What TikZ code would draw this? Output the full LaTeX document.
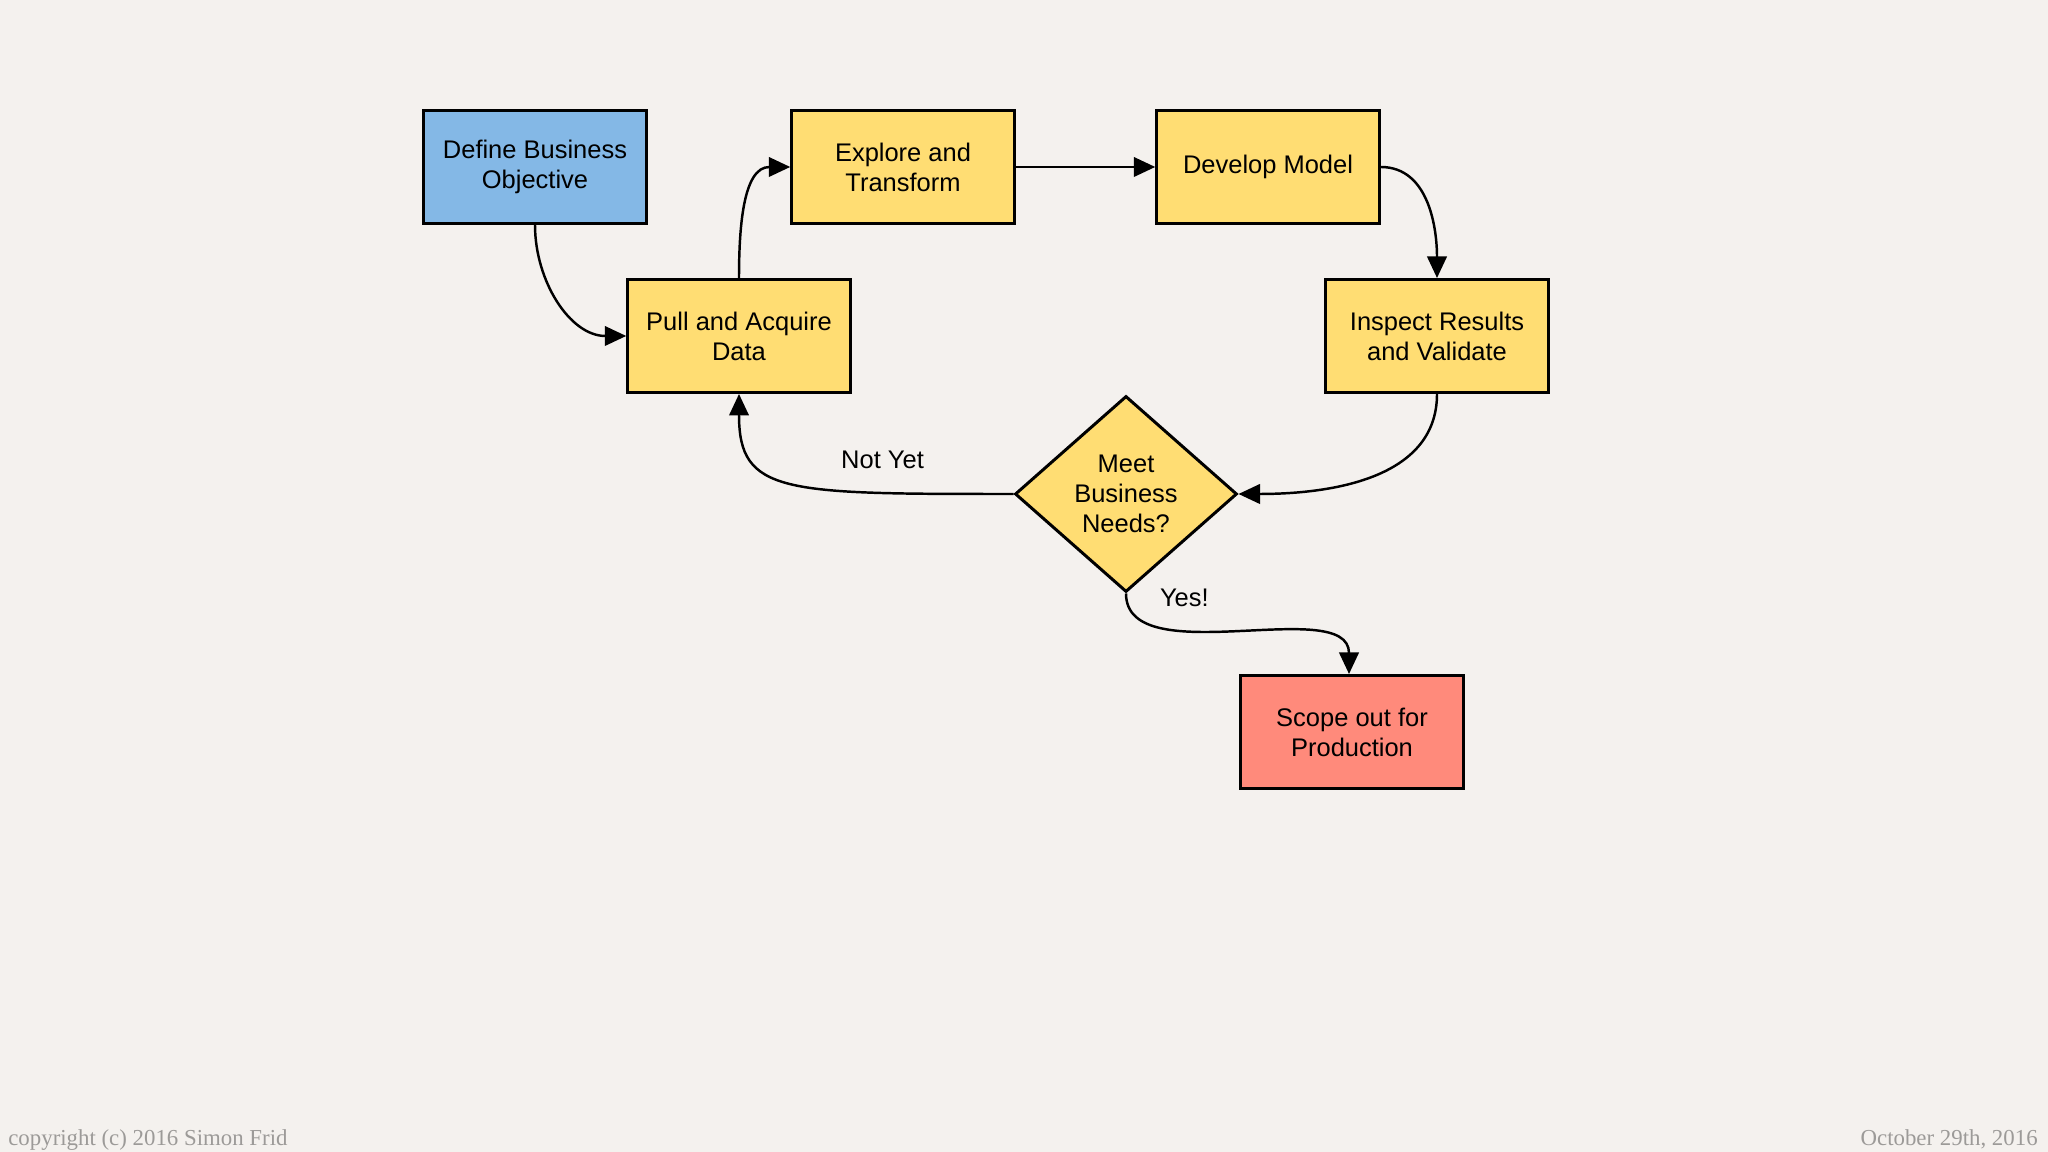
\documentclass[tikz,border=0pt]{standalone}
\usepackage{fontspec}
\setmainfont{Liberation Sans}
\newfontfamily\notefont{Liberation Serif}
\usepackage{tikz}
\usetikzlibrary{arrows.meta, positioning, shapes.geometric}
\definecolor{paper}{HTML}{F4F1EE}
\definecolor{bluebox}{HTML}{84B8E6}
\definecolor{yellowbox}{HTML}{FFDD73}
\definecolor{redbox}{HTML}{FF8A7B}
\definecolor{notegray}{HTML}{9C9A98}

\begin{document}
\begin{tikzpicture}[
    every node/.style={font=\fontsize{14.5}{17}\selectfont},
    box/.style={rectangle, draw=black, line width=1.7pt, fill=yellowbox, minimum width=4.45cm, minimum height=2.26cm, align=center, inner sep=2pt},
    decision/.style={diamond, draw=black, line width=1.7pt, fill=yellowbox, minimum width=4.44cm, minimum height=3.92cm, inner sep=0pt, align=center},
    arrow/.style={line width=1.4pt, -{Triangle[length=4.3mm, width=3.9mm]}, color=black},
    lbl/.style={inner sep=1pt}
]

% Paper
\fill[paper] (0,0) rectangle (40.96,23.04);
\useasboundingbox (0,0) rectangle (40.96,23.04);

% Nodes
\node[box, fill=bluebox] (objective) at (10.70,19.70) {Define Business\\Objective};
\node[box] (explore) at (18.06,19.70) {Explore and\\Transform};
\node[box] (model) at (25.36,19.70) {Develop Model};

\node[box] (acquire) at (14.78,16.32) {Pull and Acquire\\Data};
\node[box] (inspect) at (28.74,16.32) {Inspect Results\\and Validate};

\node[decision] (needs) at (22.52,13.16) {Meet\\Business\\Needs?};
\node[box, fill=redbox] (production) at (27.04,8.40) {Scope out for\\Production};

% Arrows
\draw[arrow] (objective.south) to[out=-90, in=180] (acquire.west);
\draw[arrow] (acquire.north) to[out=90, in=180] (explore.west);
\draw[arrow] (explore) -- (model);
\draw[arrow] (model.east) to[out=0, in=90] (inspect.north);
\draw[arrow] (inspect.south) to[out=-90, in=0] (needs.east);

% Decision outcomes
\draw[arrow] (needs.west) .. controls +(-4.6,0) and +(0,-2.0) .. node[pos=0.23, above=0.42cm, lbl] {Not Yet} (acquire.south);
\draw[arrow] (needs.south) .. controls +(0,-1.6) and +(0,1.6) .. node[at start, anchor=west, xshift=0.62cm, yshift=-0.08cm, lbl] {Yes!} ([xshift=-0.06cm]production.north);

% Footer
\node[anchor=base west, text=notegray, font=\notefont\fontsize{13}{15}\selectfont, inner sep=0pt] (copyright) at (0.16,0.12) {copyright (c) 2016 Simon Frid};
\node[anchor=base east, text=notegray, font=\notefont\fontsize{13}{15}\selectfont, inner sep=0pt] (date) at (40.76,0.12) {October 29th, 2016};

\end{tikzpicture}
\end{document}
